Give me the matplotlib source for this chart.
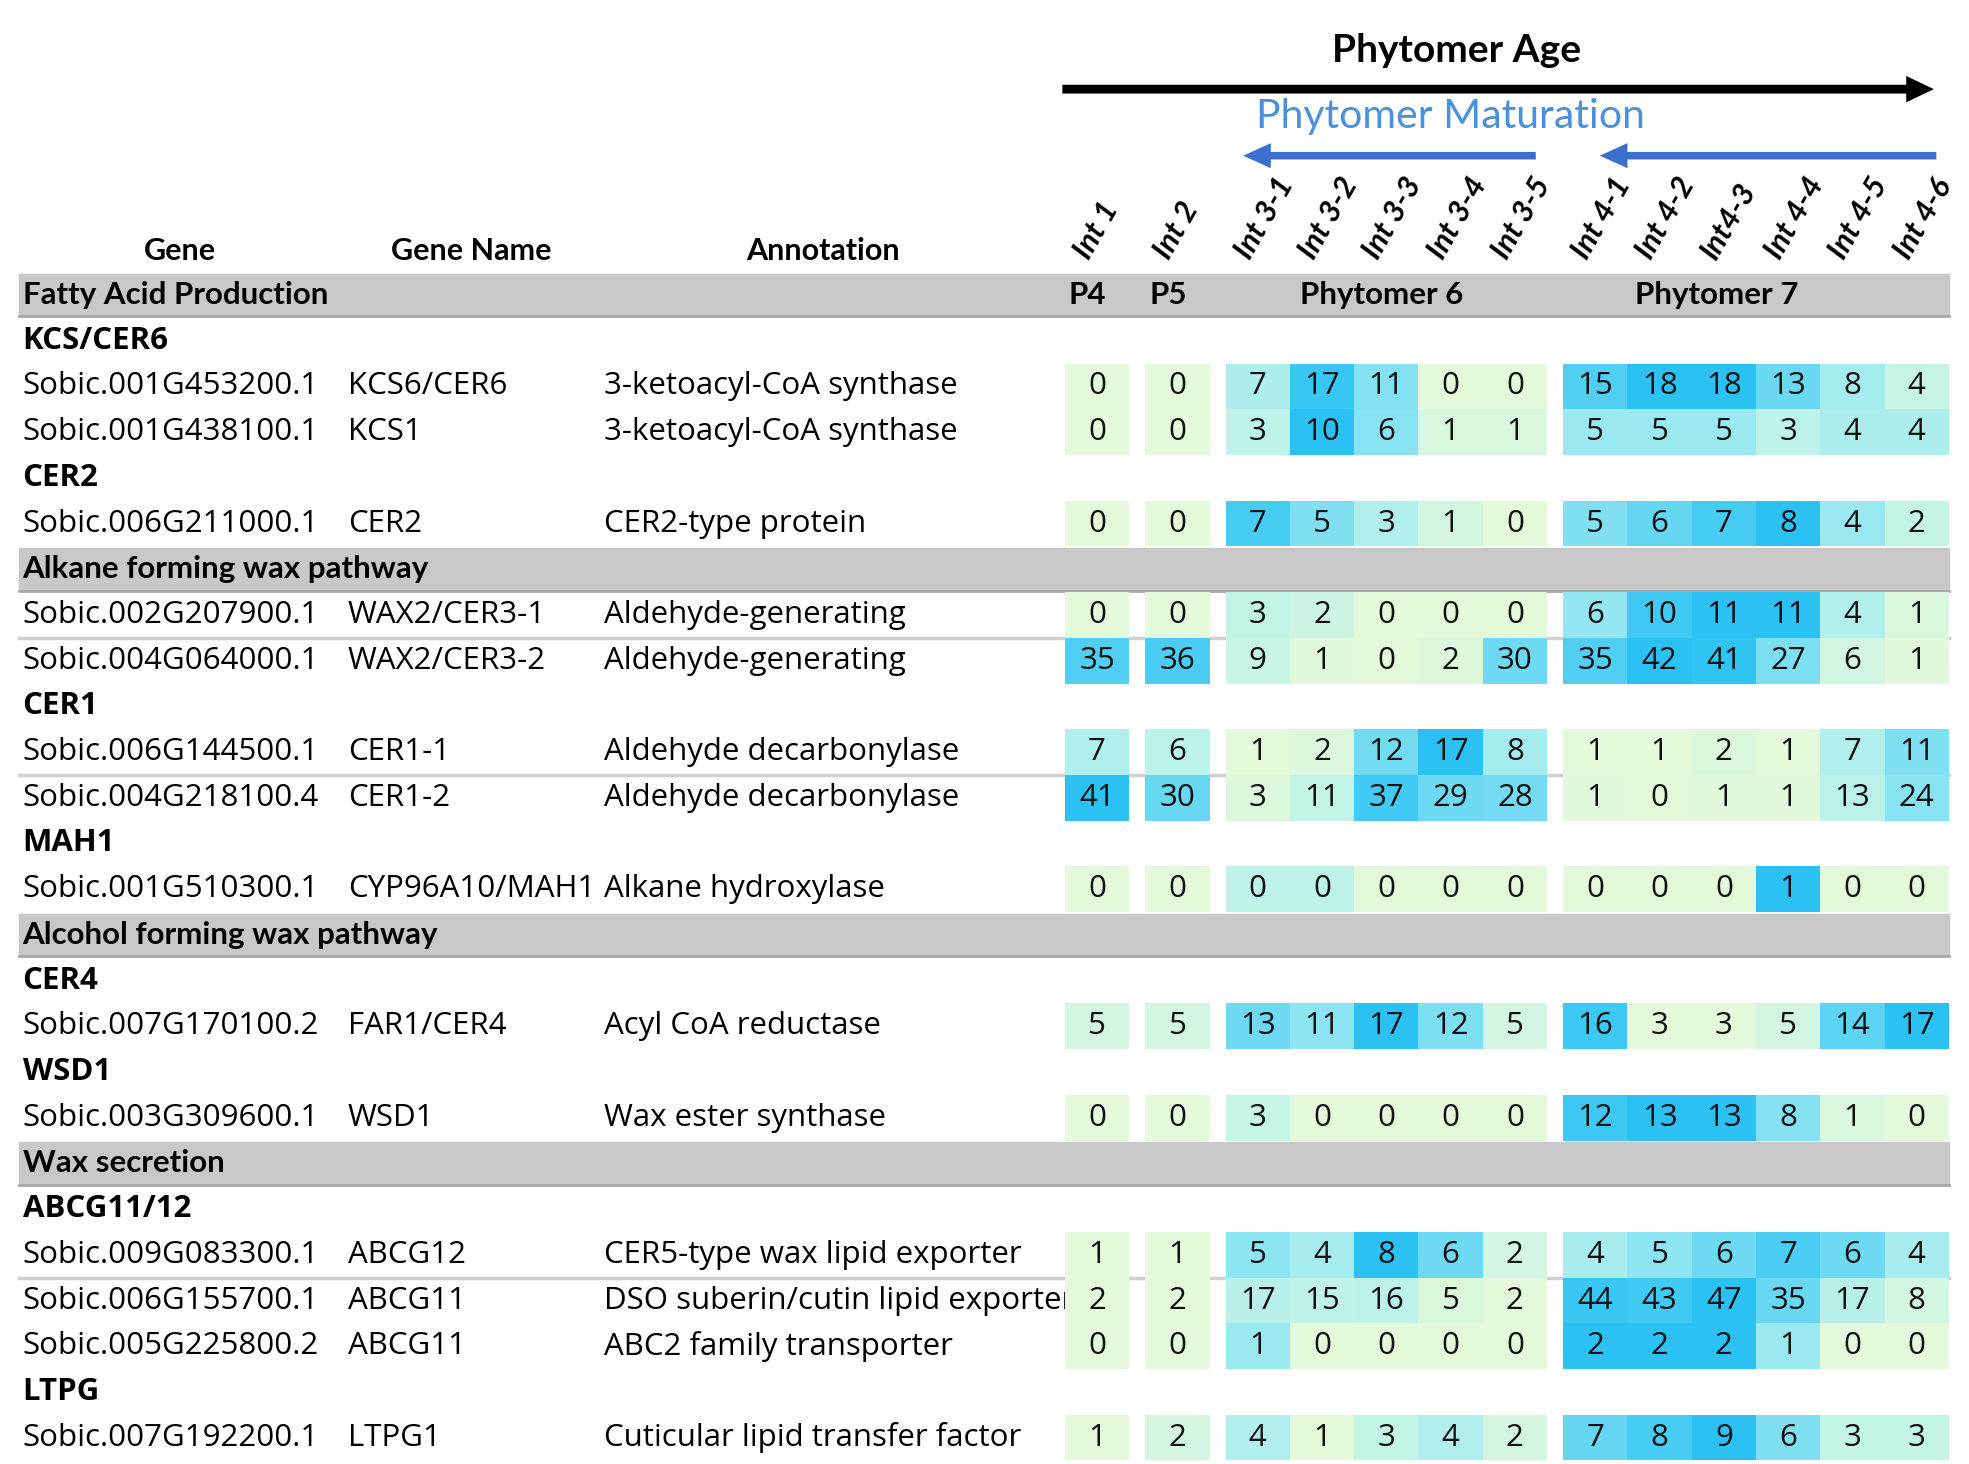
import numpy as np
import matplotlib.pyplot as plt
from matplotlib.colors import LinearSegmentedColormap
from matplotlib.patches import Rectangle

columns = ["Int 1", "Int 2", "Int 3-1", "Int 3-2", "Int 3-3", "Int 3-4", "Int 3-5",
           "Int 4-1", "Int 4-2", "Int4-3", "Int 4-4", "Int 4-5", "Int 4-6"]
column_group = [0, 1, 2, 2, 2, 2, 2, 3, 3, 3, 3, 3, 3]
group_labels = ["P4", "P5", "Phytomer 6", "Phytomer 7"]

sections = ["Fatty Acid Production", "Alkane forming wax pathway",
            "Alcohol forming wax pathway", "Wax secretion"]
families = ["KCS/CER6", "CER2", "CER1", "MAH1", "CER4", "WSD1", "ABCG11/12", "LTPG"]

gene_ids = ["Sobic.001G453200.1", "Sobic.001G438100.1", "Sobic.006G211000.1",
            "Sobic.002G207900.1", "Sobic.004G064000.1", "Sobic.006G144500.1",
            "Sobic.004G218100.4", "Sobic.001G510300.1", "Sobic.007G170100.2",
            "Sobic.003G309600.1", "Sobic.009G083300.1", "Sobic.006G155700.1",
            "Sobic.005G225800.2", "Sobic.007G192200.1"]
gene_names = ["KCS6/CER6", "KCS1", "CER2", "WAX2/CER3-1", "WAX2/CER3-2", "CER1-1",
              "CER1-2", "CYP96A10/MAH1", "FAR1/CER4", "WSD1", "ABCG12", "ABCG11",
              "ABCG11", "LTPG1"]
annotations = ["3-ketoacyl-CoA synthase", "3-ketoacyl-CoA synthase", "CER2-type protein",
               "Aldehyde-generating", "Aldehyde-generating", "Aldehyde decarbonylase",
               "Aldehyde decarbonylase", "Alkane hydroxylase", "Acyl CoA reductase",
               "Wax ester synthase", "CER5-type wax lipid exporter",
               "DSO suberin/cutin lipid exporter", "ABC2 family transporter",
               "Cuticular lipid transfer factor"]

expression = [
    [0, 0, 7, 17, 11, 0, 0, 15, 18, 18, 13, 8, 4],
    [0, 0, 3, 10, 6, 1, 1, 5, 5, 5, 3, 4, 4],
    [0, 0, 7, 5, 3, 1, 0, 5, 6, 7, 8, 4, 2],
    [0, 0, 3, 2, 0, 0, 0, 6, 10, 11, 11, 4, 1],
    [35, 36, 9, 1, 0, 2, 30, 35, 42, 41, 27, 6, 1],
    [7, 6, 1, 2, 12, 17, 8, 1, 1, 2, 1, 7, 11],
    [41, 30, 3, 11, 37, 29, 28, 1, 0, 1, 1, 13, 24],
    [0, 0, 0.3, 0.3, 0, 0, 0, 0, 0, 0, 1, 0, 0],
    [5, 5, 13, 11, 17, 12, 5, 16, 3, 3, 5, 14, 17],
    [0, 0, 3, 0, 0, 0, 0, 12, 13, 13, 8, 1, 0],
    [1, 1, 5, 4, 8, 6, 2, 4, 5, 6, 7, 6, 4],
    [2, 2, 17, 15, 16, 5, 2, 44, 43, 47, 35, 17, 8],
    [0, 0, 1, 0, 0, 0, 0, 2, 2, 2, 1, 0, 0],
    [1, 2, 4, 1, 3, 4, 2, 7, 8, 9, 6, 3, 3],
]

# S = section band, F = gene family label, G = gene row
row_order = ["S", "F", "G", "G", "F", "G", "S", "G", "G", "F", "G", "G", "F", "G",
             "S", "F", "G", "F", "G", "S", "F", "G", "G", "G", "F", "G"]
lines_after = [3, 5, 10]

cmap = LinearSegmentedColormap.from_list(
    "wax", [(0.0, "#e4f9d9"), (0.3, "#bdf3e9"), (0.55, "#92e6f2"), (1.0, "#2bc2f3")])

W, H = 1568, 1166
fig = plt.figure(figsize=(19.69, 14.64), dpi=100)
ax = fig.add_axes([0, 0, 1, 1])
ax.set_xlim(0, W)
ax.set_ylim(H, 0)
ax.axis("off")

body = "Open Sans"
head = "Lato"
fs = 22.5

x0, cw, gap = 848, 51.2, 12.8
y0, rh = 235, 36.4
col_left = [x0 + i * cw + gap * g for i, g in enumerate(column_group)]
col_mid = [l + cw / 2 for l in col_left]

# top header
ax.text(1160, 40, "Phytomer Age", ha="center", va="center", fontsize=28,
        fontweight="bold", family=head)
ax.arrow(846, 71, 694, 0, width=7, head_width=21, head_length=22,
         length_includes_head=True, color="black", lw=0)
ax.text(1155, 93, "Phytomer Maturation", ha="center", va="center", fontsize=29.5,
        color="#4a90da", family=head)
for x_tail, x_head in [(1223, 990), (1542, 1274)]:
    ax.arrow(x_tail, 124, x_head - x_tail, 0, width=6, head_width=20, head_length=22,
             length_includes_head=True, color="#3a6fd0", lw=0)

for name, xm in zip(columns, col_mid):
    ax.text(xm - 3, y0 - 25, name, rotation=60, rotation_mode="anchor", ha="left",
            va="bottom", fontsize=22, fontweight="bold", fontstyle="italic", family=head)

for label, x in zip(["Gene", "Gene Name", "Annotation"], [143, 375, 655]):
    ax.text(x, y0 - 35, label, ha="center", va="center", fontsize=22,
            fontweight="bold", family=head)

si = fi = gi = 0
for k, kind in enumerate(row_order):
    y = y0 + k * rh
    if kind == "S":
        ax.add_patch(Rectangle((15, y - 17), 1537, 34, color="#c8c8c8", zorder=1))
        ax.plot([15, 1552], [y + 17, y + 17], color="#a8a8a8", lw=2, zorder=1)
        ax.text(18, y, sections[si], ha="left", va="center", fontsize=22.5,
                fontweight="bold", family=head, zorder=3)
        if si == 0:
            for lab, x in zip(group_labels, [866, 930, 1100, 1367]):
                ax.text(x, y, lab, ha="center", va="center", fontsize=22.5,
                        fontweight="bold", family=head, zorder=3)
        si += 1
    elif kind == "F":
        ax.text(18, y, families[fi], ha="left", va="center", fontsize=fs,
                fontweight="bold", family=body)
        fi += 1
    else:
        ax.text(18, y, gene_ids[gi], ha="left", va="center", fontsize=fs, family=body)
        ax.text(277, y, gene_names[gi], ha="left", va="center", fontsize=fs, family=body)
        ax.text(481, y, annotations[gi], ha="left", va="center", fontsize=fs,
                family=body, zorder=1)
        vals = np.array(expression[gi], dtype=float)
        norm = (vals - vals.min()) / (vals.max() - vals.min())
        for v, c, l, m in zip(vals, norm, col_left, col_mid):
            ax.add_patch(Rectangle((l, y - rh / 2), cw, rh, color=cmap(c), lw=0, zorder=2))
            ax.text(m, y, f"{v:.0f}", ha="center", va="center", fontsize=fs,
                    family=body, color="#111111", zorder=3)
        if gi in lines_after:
            ax.plot([15, 1552], [y + rh / 2, y + rh / 2], color="#d0d0d0", lw=2.5, zorder=1.5)
        gi += 1

fig.savefig("out.png", dpi=100)
